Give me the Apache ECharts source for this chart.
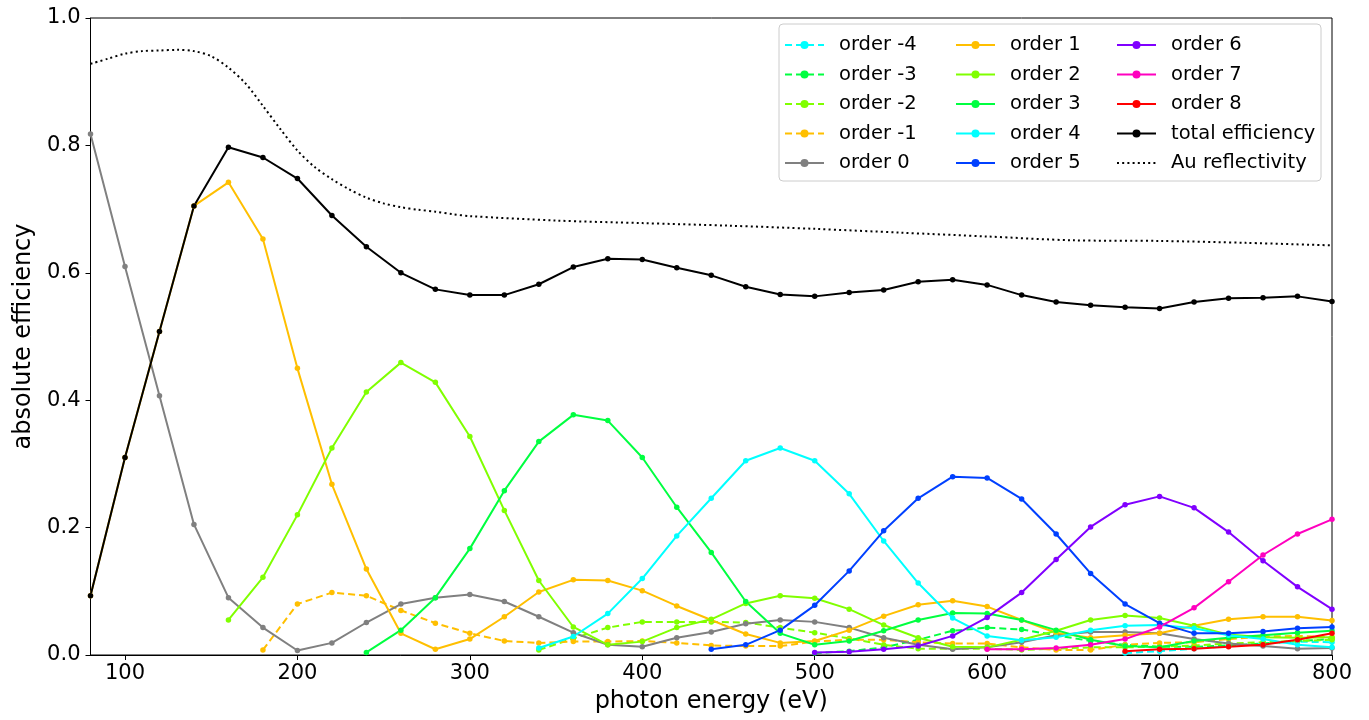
<!DOCTYPE html>
<html><head><meta charset="utf-8">
<script src="https://cdn.jsdelivr.net/npm/echarts@6/dist/echarts.min.js"></script>
<style>html,body{margin:0;padding:0;background:#fff}#c{width:1369px;height:720px}</style>
</head><body><div id="c"></div>
<script>
// photon energies (eV) for grating-order curves
const energies = [80,100,120,140,160,180,200,220,240,260,280,300,320,340,360,380,400,420,440,460,480,500,520,540,560,580,600,620,640,660,680,700,720,740,760,780,800];
const xTicks = [100,200,300,400,500,600,700,800];
const yTicks = [0,0.2,0.4,0.6,0.8,1.0];

// each order: first energy where it starts, then values
const orderM4 = {start:680, v:[0.003,0.006,0.010,0.014,0.018,0.021,0.020]};
const orderM3 = {start:500, v:[0.003,0.006,0.012,0.024,0.038,0.043,0.040,0.031,0.022,0.016,0.013,0.013,0.015,0.018,0.022,0.025]};
const orderM2 = {start:340, v:[0.008,0.026,0.043,0.052,0.052,0.052,0.051,0.043,0.035,0.026,0.016,0.010,0.010,0.010,0.008,0.010,0.012,0.012,0.013,0.015,0.018,0.020,0.022,0.024]};
const orderM1 = {start:180, v:[0.008,0.080,0.098,0.093,0.070,0.050,0.034,0.022,0.019,0.021,0.021,0.022,0.019,0.015,0.014,0.014,0.021,0.024,0.024,0.020,0.018,0.018,0.012,0.008,0.008,0.016,0.019,0.020,0.025,0.029,0.030,0.028]};
const order0 = {start:80, v:[0.818,0.610,0.407,0.205,0.090,0.043,0.007,0.019,0.051,0.080,0.090,0.095,0.084,0.060,0.035,0.016,0.013,0.027,0.036,0.049,0.055,0.052,0.043,0.027,0.016,0.009,0.012,0.020,0.031,0.036,0.036,0.034,0.025,0.018,0.014,0.010,0.011]};
const order1 = {start:80, v:[0.093,0.310,0.508,0.705,0.742,0.653,0.450,0.268,0.135,0.034,0.009,0.025,0.060,0.099,0.118,0.117,0.101,0.077,0.055,0.033,0.019,0.022,0.039,0.061,0.079,0.085,0.076,0.055,0.035,0.027,0.031,0.034,0.046,0.056,0.060,0.060,0.054]};
const order2 = {start:160, v:[0.055,0.122,0.220,0.325,0.413,0.459,0.428,0.343,0.227,0.117,0.044,0.016,0.021,0.043,0.056,0.081,0.093,0.089,0.072,0.047,0.027,0.013,0.012,0.024,0.038,0.055,0.062,0.058,0.046,0.032,0.028,0.027,0.028]};
const order3 = {start:240, v:[0.004,0.039,0.090,0.167,0.258,0.335,0.377,0.368,0.310,0.232,0.161,0.084,0.034,0.016,0.022,0.038,0.055,0.066,0.065,0.055,0.039,0.024,0.014,0.012,0.022,0.027,0.031,0.035,0.038]};
const order4 = {start:340, v:[0.011,0.029,0.065,0.120,0.187,0.246,0.305,0.325,0.305,0.253,0.179,0.113,0.058,0.030,0.023,0.028,0.039,0.046,0.047,0.042,0.031,0.025,0.016,0.012]};
const order5 = {start:440, v:[0.009,0.016,0.039,0.078,0.132,0.195,0.246,0.280,0.278,0.245,0.190,0.128,0.080,0.050,0.034,0.034,0.037,0.042,0.044]};
const order6 = {start:500, v:[0.004,0.005,0.009,0.014,0.030,0.059,0.098,0.150,0.201,0.236,0.249,0.231,0.193,0.148,0.107,0.072]};
const order7 = {start:600, v:[0.009,0.009,0.011,0.016,0.025,0.044,0.074,0.115,0.157,0.190,0.213]};
const order8 = {start:680, v:[0.006,0.009,0.010,0.013,0.016,0.024,0.034]};
const totalEff = {start:80, v:[0.093,0.310,0.508,0.705,0.797,0.781,0.748,0.690,0.641,0.600,0.574,0.565,0.565,0.582,0.609,0.622,0.621,0.608,0.596,0.578,0.566,0.563,0.569,0.573,0.586,0.589,0.581,0.565,0.554,0.549,0.546,0.544,0.554,0.560,0.561,0.563,0.555]};

// Au reflectivity (smooth curve)
const auE = [80,90,100,110,120,130,140,150,160,170,180,190,200,210,220,230,240,250,260,270,280,290,300,350,400,450,500,550,600,650,700,750,800];
const auR = [0.928,0.936,0.944,0.948,0.949,0.950,0.948,0.940,0.922,0.897,0.862,0.826,0.792,0.766,0.747,0.731,0.718,0.709,0.703,0.699,0.696,0.692,0.689,0.682,0.678,0.674,0.669,0.663,0.657,0.651,0.650,0.647,0.643];

const colors = {1:'#ffbf00',2:'#80ff00',3:'#00ff40',4:'#00ffff',5:'#0040ff',6:'#8000ff',7:'#ff00bf',8:'#ff0000',0:'#808080'};

function pairs(o){
  const i0 = energies.indexOf(o.start);
  return o.v.map((y,k)=>[energies[i0+k], y]);
}
function mk(name, o, color, dashed){
  return {
    name, type:'line', data: pairs(o), symbol:'circle', symbolSize:5.5, showSymbol:true,
    lineStyle:{color, width:2, type: dashed ? [7,4] : 'solid'},
    itemStyle:{color}, emphasis:{disabled:true}, animation:false
  };
}
const series = [
  mk('order -4', orderM4, colors[4], true),
  mk('order -3', orderM3, colors[3], true),
  mk('order -2', orderM2, colors[2], true),
  mk('order -1', orderM1, colors[1], true),
  mk('order 0', order0, colors[0], false),
  mk('order 1', order1, colors[1], false),
  mk('order 2', order2, colors[2], false),
  mk('order 3', order3, colors[3], false),
  mk('order 4', order4, colors[4], false),
  mk('order 5', order5, colors[5], false),
  mk('order 6', order6, colors[6], false),
  mk('order 7', order7, colors[7], false),
  mk('order 8', order8, colors[8], false),
  mk('total efficiency', totalEff, '#000000', false),
  {name:'Au reflectivity', type:'line', data: auE.map((e,i)=>[e, auR[i]]), symbol:'none', smooth:0.3,
   lineStyle:{color:'#000', width:2, type:[2,3.2]}, itemStyle:{color:'rgba(0,0,0,0)'}, emphasis:{disabled:true}, animation:false}
];

const legendBase = {orient:'vertical', top:35, padding:0, itemWidth:39, itemHeight:10, itemGap:9.5,
  textStyle:{fontSize:19.5, fontFamily:'DejaVu Sans', color:'#000', lineHeight:20, padding:[0,0,0,10]}, z:101, selectedMode:false};

const chart = echarts.init(document.getElementById('c'), null, {renderer:'canvas'});
chart.setOption({
  animation:false,
  textStyle:{fontFamily:'DejaVu Sans'},
  grid:{left:90.5, right:37, top:18, bottom:65, show:true, borderColor:'#000', borderWidth:1},
  graphic:[{type:'rect', shape:{x:779, y:24, width:542, height:157, r:4}, style:{fill:'rgba(255,255,255,0.8)', stroke:'#cccccc', lineWidth:1}, z:100}],
  legend:[
    Object.assign({}, legendBase, {left:784, data:['order -4','order -3','order -2','order -1','order 0']}),
    Object.assign({}, legendBase, {left:955, data:['order 1','order 2','order 3','order 4','order 5']}),
    Object.assign({}, legendBase, {left:1116, data:['order 6','order 7','order 8','total efficiency',
      {name:'Au reflectivity', itemStyle:{color:'rgba(0,0,0,0)', borderWidth:0}}]})
  ],
  xAxis:{type:'value', min:80, max:800, name:'photon energy (eV)', nameLocation:'middle', nameGap:35,
    nameTextStyle:{fontSize:24, color:'#000', fontFamily:'DejaVu Sans'},
    axisLine:{show:true, lineStyle:{color:'#000', width:1}},
    axisTick:{show:true, customValues:xTicks, length:5, lineStyle:{color:'#000'}},
    axisLabel:{customValues:xTicks, fontSize:21, color:'#000', margin:8, fontFamily:'DejaVu Sans'},
    splitLine:{show:false}},
  yAxis:{type:'value', min:0, max:1, interval:0.2, name:'absolute efficiency', nameLocation:'middle', nameGap:53,
    nameTextStyle:{fontSize:24, color:'#000', fontFamily:'DejaVu Sans'},
    axisLine:{show:true, lineStyle:{color:'#000', width:1}},
    axisTick:{show:true, length:5, lineStyle:{color:'#000'}},
    axisLabel:{fontSize:21, color:'#000', margin:10, fontFamily:'DejaVu Sans', formatter:v=>v.toFixed(1)},
    splitLine:{show:false}},
  series
});
</script></body></html>
